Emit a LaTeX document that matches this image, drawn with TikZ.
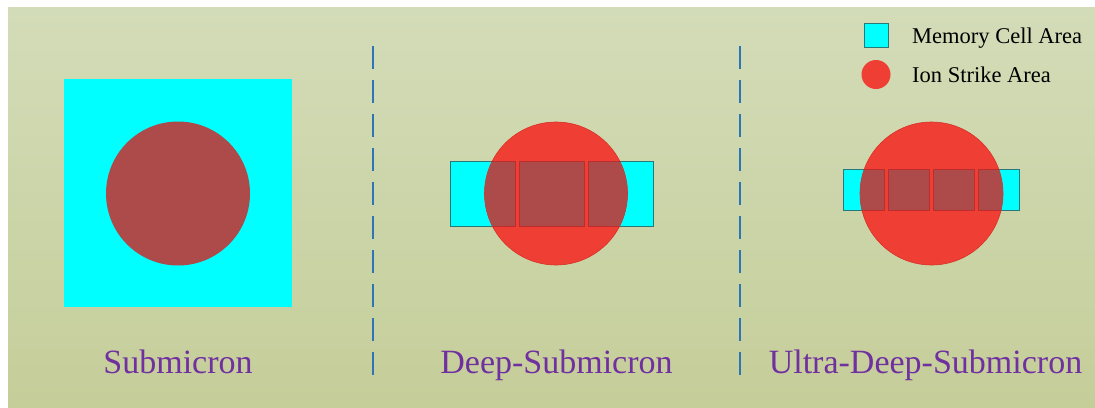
\documentclass[tikz,border=0pt]{standalone}
\usepackage{fontspec}
\setmainfont{Liberation Serif}
\definecolor{bgtop}{RGB}{211,220,184}
\definecolor{bgbot}{RGB}{197,206,153}
\definecolor{cellcyan}{RGB}{0,255,255}
\definecolor{cellline}{RGB}{40,120,120}
\definecolor{ionred}{RGB}{239,62,51}
\definecolor{ionline}{RGB}{215,50,40}
\definecolor{overlap}{RGB}{173,74,74}
\definecolor{overline}{RGB}{190,45,45}
\definecolor{dashblue}{RGB}{46,117,182}
\definecolor{labelpurple}{RGB}{112,48,160}
\tikzset{
  memrect/.style={fill=cellcyan, draw=cellline, line width=0.8pt},
  ion/.style={fill=ionred, draw=ionline, line width=0.6pt},
  overcell/.style={fill=overlap, draw=overline, line width=1pt},
  divider/.style={draw=dashblue, line width=2.6pt, dash pattern=on 23pt off 11pt},
  stagelabel/.style={text=labelpurple, font=\fontsize{34}{40}\selectfont, anchor=base, inner sep=0pt},
  legendtext/.style={text=black, font=\fontsize{22.5}{26}\selectfont, anchor=base west, inner sep=0pt}
}
\begin{document}
\begin{tikzpicture}[x=1pt,y=-1pt]
\useasboundingbox (0,0) rectangle (1095,407);
\fill[white] (0,0) rectangle (1095,407);
\shade[top color=bgtop, bottom color=bgbot] (8,7) rectangle (1095,407);

% dividers
\coordinate (d1t) at (373,46); \coordinate (d1b) at (373,376);
\coordinate (d2t) at (740,46); \coordinate (d2b) at (740,376);
\draw[divider] (d1t) -- (d1b);
\draw[divider] (d2t) -- (d2b);

% Submicron
\fill[cellcyan] (64,79) rectangle (292,307);
\fill[overlap] (178,193.5) circle (72);

% Deep-Submicron
\draw[memrect] (450,161) rectangle (653,226);
\draw[ion] (556,193.5) circle (71.5);
\begin{scope}
  \clip (556,193.5) circle (71.5);
  \draw[overcell] (451,161) rectangle (515,226);
  \draw[overcell] (519,161) rectangle (584,226);
  \draw[overcell] (588,161) rectangle (652,226);
\end{scope}

% Ultra-Deep-Submicron
\draw[memrect] (843,169) rectangle (1019,210);
\draw[ion] (931.5,193.5) circle (71.5);
\begin{scope}
  \clip (931.5,193.5) circle (71.5);
  \draw[overcell] (843,169) rectangle (884,210);
  \draw[overcell] (888,169) rectangle (929,210);
  \draw[overcell] (933,169) rectangle (974,210);
  \draw[overcell] (978,169) rectangle (1019,210);
\end{scope}

% legend
\node[memrect, minimum width=24pt, minimum height=24pt, inner sep=0pt] (legcell) at (876,35) {};
\node[fill=ionred, circle, minimum size=29pt, inner sep=0pt] (legion) at (876,74.5) {};
\node[legendtext] (legcelltext) at (912,43) {Memory Cell Area};
\node[legendtext] (legiontext) at (912,82) {Ion Strike Area};

% labels
\node[stagelabel] (lab1) at (178,373) {Submicron};
\node[stagelabel] (lab2) at (556.5,373) {Deep-Submicron};
\node[stagelabel] (lab3) at (925.5,373) {Ultra-Deep-Submicron};
\end{tikzpicture}
\end{document}
